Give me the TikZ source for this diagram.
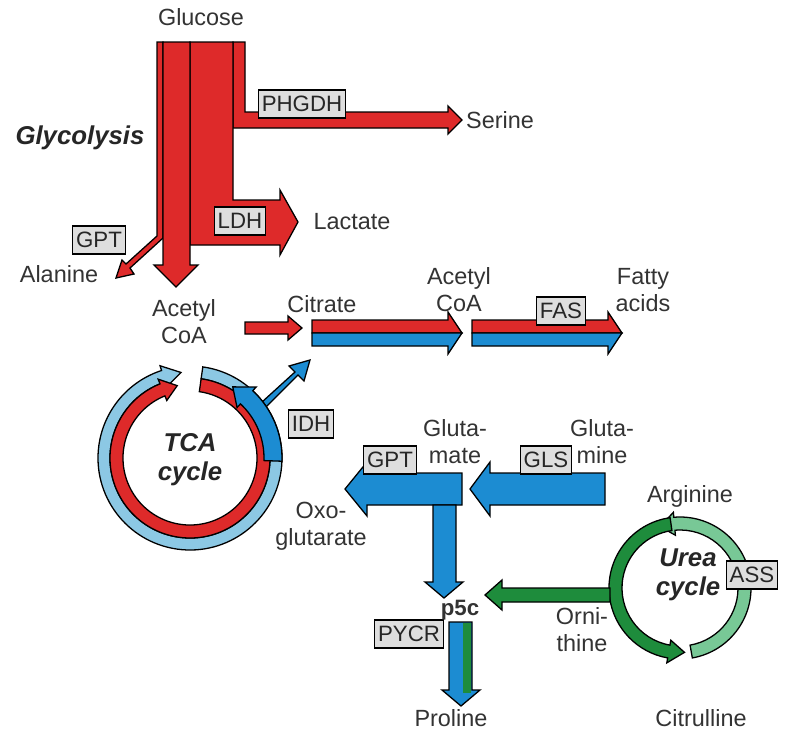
\documentclass[tikz,border=0pt]{standalone}
\usepackage{fontspec}
\setmainfont{Liberation Sans}
\usetikzlibrary{calc}

\definecolor{fluxred}{RGB}{222,42,42}
\definecolor{fluxblue}{RGB}{28,140,210}
\definecolor{fluxlblue}{RGB}{140,200,228}
\definecolor{fluxgreen}{RGB}{30,140,60}
\definecolor{fluxlgreen}{RGB}{120,200,150}
\definecolor{enzgray}{RGB}{222,222,222}

% ring arrow: #1 colour, #2 centre, #3 r in, #4 r out, #5 start, #6 end, #7 tip angle
\newcommand{\ringarrow}[7]{%
  \filldraw[flux, fill=#1] ($(#2)+(#5:#4)$) arc[start angle=#5, end angle=#6, radius=#4]
    -- ($(#2)+(#6:#4+5)$) -- ($(#2)+(#7:#3/2+#4/2)$) -- ($(#2)+(#6:#3-5)$)
    -- ($(#2)+(#6:#3)$) arc[start angle=#6, end angle=#5, radius=#3] -- cycle;}

\begin{document}
\begin{tikzpicture}[x=0.3mm, y=-0.3mm,
    flux/.style={draw=black, line width=1.1pt, line join=miter},
    enzyme/.style={draw=black, line width=1.1pt, fill=enzgray, inner sep=3pt,
      minimum height=24pt, font=\fontsize{19}{20}\selectfont, text=black!85},
    metab/.style={font=\fontsize{20}{23}\selectfont, text=black!80, align=center},
    title/.style={font=\fontsize{22}{25}\selectfont\bfseries\itshape, text=black!85, align=center}]
  \useasboundingbox (0,0) rectangle (800,740);

  % glycolysis block
  \filldraw[flux, fill=fluxred] (157,42) -- (163,42) -- (163,238) -- (130,268) -- (134,274)
    -- (116,278) -- (122,260) -- (126,264) -- (157,236) -- cycle;
  \filldraw[flux, fill=fluxred] (233,42) -- (245,42) -- (245,112) -- (448,112) -- (448,106)
    -- (462,120) -- (448,134) -- (448,128) -- (233,128) -- cycle;
  \filldraw[flux, fill=fluxred] (190,42) -- (233,42) -- (233,200) -- (280,200) -- (280,190)
    -- (298,222) -- (280,255) -- (280,245) -- (190,245) -- cycle;
  \filldraw[flux, fill=fluxred] (163,42) -- (190,42) -- (190,265) -- (198,265) -- (176,287)
    -- (154,265) -- (163,265) -- cycle;

  % acetyl CoA to citrate, citrate export, fatty acid synthesis
  \filldraw[flux, fill=fluxred] (245,322) -- (288,322) -- (288,316) -- (302,328) -- (288,340)
    -- (288,334) -- (245,334) -- cycle;
  \foreach \xa/\xb in {312/448, 472/608}{
    \filldraw[flux, fill=fluxred] (\xa,320) -- (\xb,320) -- (\xb,312) -- (\xb+14,333)
      -- (\xa,333) -- cycle;
    \filldraw[flux, fill=fluxblue] (\xa,333) -- (\xb+14,333) -- (\xb,354) -- (\xb,346)
      -- (\xa,346) -- cycle;
  }
  \filldraw[flux, fill=fluxblue] (262,402) -- (295,372) -- (289,366) -- (310,360) -- (304,381)
    -- (298,375) -- (266,407) -- cycle;

  % TCA cycle
  \coordinate (tca) at (190,458);
  \ringarrow{fluxlblue}{tca}{80}{92}{-82}{252}{264}
  \ringarrow{fluxred}{tca}{67}{80}{-82}{248}{260}
  \ringarrow{fluxblue}{tca}{74}{92}{2}{-47}{-59}

  % glutamine and glutamate
  \filldraw[flux, fill=fluxblue] (605,473) -- (490,473) -- (490,462) -- (470,489) -- (490,516)
    -- (490,505) -- (605,505) -- cycle;
  \filldraw[flux, fill=fluxblue] (462,473) -- (367,473) -- (367,462) -- (345,489) -- (367,516)
    -- (367,505) -- (462,505) -- cycle;
  \filldraw[flux, fill=fluxblue] (433,505) -- (456,505) -- (456,582) -- (463,582) -- (444,598)
    -- (425,582) -- (433,582) -- cycle;

  % urea cycle
  \coordinate (urea) at (680,588);
  \ringarrow{fluxlgreen}{urea}{58}{71}{80}{-95}{-108}
  \ringarrow{fluxgreen}{urea}{58}{71}{262}{100}{86}
  \filldraw[flux, fill=fluxgreen] (610,588) -- (502,588) -- (502,580) -- (485,595) -- (502,610)
    -- (502,602) -- (610,602) -- cycle;

  % p5c to proline
  \filldraw[flux, fill=fluxblue] (449,622) -- (472,622) -- (472,690) -- (480,690) -- (461,706)
    -- (442,690) -- (449,690) -- cycle;
  \fill[fluxgreen] (463,623) rectangle (471,693);

  % enzymes
  \node[enzyme] (phgdh) at (302,104) {PHGDH};
  \node[enzyme] (ldh) at (240,221) {LDH};
  \node[enzyme] (gpt1) at (99,240) {GPT};
  \node[enzyme] (fas) at (561,311) {FAS};
  \node[enzyme] (idh) at (311,424) {IDH};
  \node[enzyme] (gpt2) at (390,460) {GPT};
  \node[enzyme] (gls) at (546,460) {GLS};
  \node[enzyme] (pycr) at (409,634) {PYCR};
  \node[enzyme] (ass) at (752,575) {ASS};

  % metabolites
  \node[metab] (glucose) at (201,17) {Glucose};
  \node[metab] (serine) at (500,120) {Serine};
  \node[metab] (lactate) at (352,222) {Lactate};
  \node[metab] (alanine) at (59,274) {Alanine};
  \node[metab] (acoa1) at (184,322) {Acetyl\\CoA};
  \node[metab] (citrate) at (322,304) {Citrate};
  \node[metab] (acoa2) at (459,290) {Acetyl\\CoA};
  \node[metab] (fatty) at (643,290) {Fatty\\acids};
  \node[metab] (glu) at (455,442) {Gluta-\\mate};
  \node[metab] (gln) at (602,442) {Gluta-\\mine};
  \node[metab] (oxo) at (321,526) {Oxo-\\glutarate};
  \node[metab, font=\fontsize{19}{22}\selectfont\bfseries] (p5c) at (460,610) {p5c};
  \node[metab] (arg) at (690,496) {Arginine};
  \node[metab] (orn) at (582,630) {Orni-\\thine};
  \node[metab] (cit) at (701,718) {Citrulline};
  \node[metab] (pro) at (451,718) {Proline};

  % pathway titles
  \node[title] (glyc) at (80,138) {Glycolysis};
  \node[title] (tcat) at (190,460) {TCA\\cycle};
  \node[title] (ureat) at (688,575) {Urea\\cycle};
\end{tikzpicture}
\end{document}
